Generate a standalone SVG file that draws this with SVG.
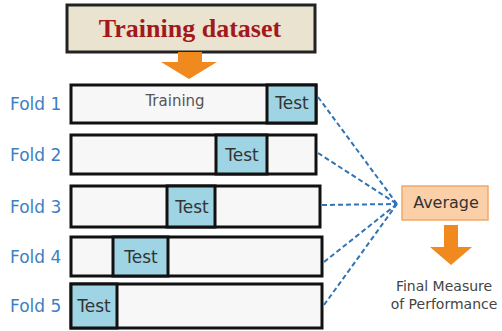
<svg xmlns="http://www.w3.org/2000/svg" width="502" height="331" viewBox="0 0 502 331">
<style>
.lbl{font-family:"DejaVu Sans",Verdana,sans-serif;font-size:17px;fill:#3b80c4}
.bar{fill:#f7f7f7;stroke:#111;stroke-width:3}
.tst{fill:#9fd4e4;stroke:#111;stroke-width:3}
.tt{font-family:"DejaVu Sans",sans-serif;font-size:17px;fill:#333;text-anchor:middle}
.dash{stroke:#2f74b5;stroke-width:2;stroke-dasharray:5 3;fill:none}
.arr{fill:#f08a1e}
.fm{font-family:"DejaVu Sans",sans-serif;font-size:14px;fill:#444;text-anchor:middle}
</style>
<rect width="502" height="331" fill="#ffffff"/>
<g id="title">
<rect x="67" y="5" width="248" height="47" fill="#e9e3cf" stroke="#222" stroke-width="3"/>
<text x="190" y="37" font-family="Liberation Serif,serif" font-weight="bold" font-size="26" fill="#a3181b" text-anchor="middle">Training dataset</text>
</g>
<g id="arrow-top"><polygon class="arr" points="178,52 202,52 202,62 217,62 189,79 161,62 178,62"/></g>
<g id="fold1">
<text class="lbl" x="10" y="110">Fold 1</text>
<rect class="bar" x="71" y="85" width="245" height="38"/>
<rect class="tst" x="267" y="85" width="49" height="38"/>
<text x="175" y="106" font-family="DejaVu Sans,sans-serif" font-size="15" fill="#555" text-anchor="middle">Training</text>
<text class="tt" x="292" y="109">Test</text>
</g>
<g id="fold2">
<text class="lbl" x="10" y="161">Fold 2</text>
<rect class="bar" x="71" y="135" width="245" height="39"/>
<rect class="tst" x="216" y="135" width="51" height="39"/>
<text class="tt" x="242" y="161">Test</text>
</g>
<g id="fold3">
<text class="lbl" x="10" y="213">Fold 3</text>
<rect class="bar" x="71" y="186" width="249" height="41"/>
<rect class="tst" x="167" y="186" width="48" height="41"/>
<text class="tt" x="192" y="213">Test</text>
</g>
<g id="fold4">
<text class="lbl" x="10" y="263">Fold 4</text>
<rect class="bar" x="71" y="237" width="251" height="39"/>
<rect class="tst" x="113" y="237" width="55" height="39"/>
<text class="tt" x="141" y="263">Test</text>
</g>
<g id="fold5">
<text class="lbl" x="10" y="312">Fold 5</text>
<rect class="bar" x="71" y="284" width="251" height="44"/>
<rect class="tst" x="71" y="284" width="46" height="44"/>
<text class="tt" x="94" y="312">Test</text>
</g>
<g id="connectors">
<line class="dash" x1="318" y1="97" x2="397" y2="204"/>
<line class="dash" x1="318" y1="153" x2="397" y2="204"/>
<line class="dash" x1="322" y1="205" x2="397" y2="204"/>
<line class="dash" x1="324" y1="262" x2="397" y2="204"/>
<line class="dash" x1="324" y1="305" x2="397" y2="204"/>
</g>
<g id="average">
<rect x="402" y="186" width="86" height="34" fill="#fbd0a8" stroke="#f0a868" stroke-width="1.5"/>
<text x="446" y="208" font-family="DejaVu Sans,sans-serif" font-size="16" fill="#333" text-anchor="middle">Average</text>
</g>
<g id="arrow-down"><polygon class="arr" points="444,225 458,225 458,247 472,247 451,265 430,247 444,247"/></g>
<g id="final">
<text class="fm" x="444" y="291">Final Measure</text>
<text class="fm" x="444" y="309">of Performance</text>
</g>
</svg>
